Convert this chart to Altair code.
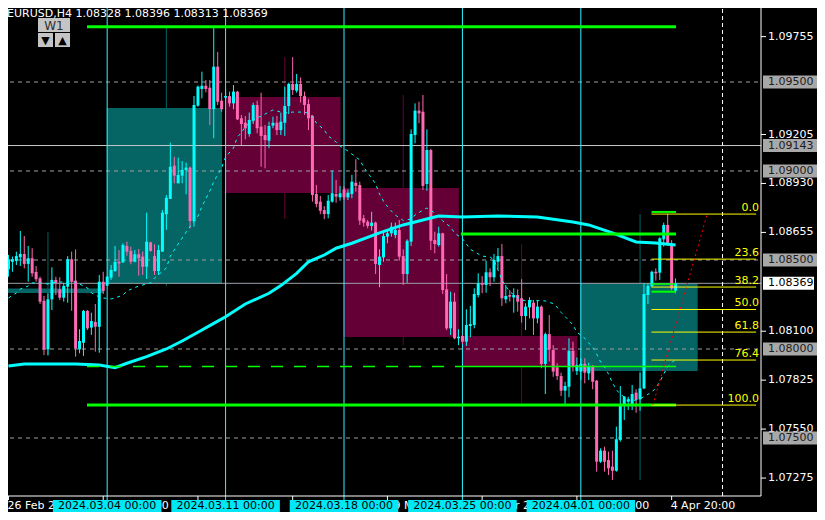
import altair as alt
import pandas as pd

PT = 1e-5              # values below are in points (0.00001)
FONT = "DejaVu Sans"
BULL, BEAR = "#00FFFF", "#FF69B4"
BOX_UP, BOX_DN = "#056464", "#650036"

# ---- H4 candles (index 0 = 26 Feb 20:00, index 169 = 5 Apr 00:00) ----
opens = [
    108448, 108490, 108494, 108515, 108534, 108478, 108510, 108433, 108397, 108271,
    107998, 108279, 108388, 108335, 108288, 108350, 108504, 108384, 107998, 108035,
    108214, 108120, 108152, 108125, 108378, 108356, 108401, 108438, 108490, 108487,
    108579, 108551, 108490, 108532, 108519, 108462, 108599, 108522, 108438, 108547,
    108757, 108843, 109030, 108931, 108974, 109006, 109019, 108719, 109367, 109461,
    109479, 109468, 109348, 109586, 109395, 109412, 109421, 109380, 109446, 109296,
    109271, 109208, 109283, 109371, 109249, 109202, 109170, 109255, 109271, 109230,
    109271, 109365, 109489, 109451, 109489, 109421, 109376, 109309, 108871, 108828,
    108781, 108758, 108828, 108871, 108852, 108897, 108852, 108871, 108934, 108921,
    108734, 108715, 108691, 108710, 108472, 108515, 108631, 108650, 108640, 108669,
    108522, 108421, 108603, 109202, 109339, 109333, 108927, 109118, 108612, 108584,
    108650, 108335, 108116, 108266, 108060, 108073, 108041, 108129, 108135, 108303,
    108369, 108360, 108431, 108403, 108490, 108522, 108279, 108303, 108290, 108303,
    108285, 108185, 108234, 108260, 108172, 108238, 107916, 108084, 107994, 107897,
    107848, 107766, 107788, 107990, 107876, 107873, 107916, 107863, 107901, 107822,
    107367, 107429, 107376, 107339, 107316, 107489, 107680, 107704, 107691, 107755,
    107717, 107779, 108303, 108354, 108434, 108429, 108616, 108697, 108594, 108328,
]
highs = [
    108528, 108519, 108547, 108663, 108635, 108579, 108566, 108466, 108406, 108298,
    108313, 108459, 108406, 108403, 108372, 108522, 108547, 108560, 108111, 108219,
    108219, 108204, 108253, 108416, 108434, 108410, 108472, 108579, 108556, 108594,
    108603, 108575, 108556, 108562, 108547, 108766, 108603, 108588, 108584, 108781,
    108865, 109159, 109080, 109075, 109056, 109047, 109025, 109421, 109480, 109558,
    109511, 109511, 109803, 109669, 109440, 109459, 109446, 109483, 109450, 109315,
    109309, 109328, 109384, 109395, 109440, 109258, 109277, 109305, 109309, 109328,
    109474, 109496, 109640, 109545, 109526, 109446, 109403, 109315, 108921, 108860,
    108803, 108865, 109002, 108949, 108916, 108916, 108897, 108978, 109066, 108940,
    108753, 108725, 108771, 108715, 108560, 108653, 108669, 108710, 108710, 108725,
    108560, 108616, 109234, 109380, 109389, 109427, 109234, 109125, 108659, 108687,
    108653, 108421, 108322, 108316, 108111, 108079, 108223, 108242, 108341, 108425,
    108410, 108496, 108453, 108534, 108567, 108590, 108360, 108331, 108341, 108335,
    108392, 108257, 108290, 108275, 108275, 108245, 108092, 108191, 108022, 107920,
    107867, 107816, 108060, 108041, 107953, 107948, 107948, 107923, 107910, 107826,
    107442, 107451, 107423, 107429, 107564, 107792, 107736, 107732, 107798, 107774,
    107867, 108369, 108369, 108440, 108453, 108628, 108710, 108760, 108612, 108396,
]
lows = [
    108406, 108434, 108472, 108466, 108453, 108378, 108406, 108378, 108253, 107966,
    107966, 108219, 108303, 108275, 108266, 108260, 108215, 107957, 107976, 107961,
    108107, 108079, 107985, 107979, 108309, 108354, 108388, 108434, 108406, 108483,
    108524, 108476, 108487, 108412, 108416, 108393, 108547, 108416, 108416, 108547,
    108669, 108843, 108931, 108931, 108931, 108869, 108678, 108687, 109361, 109408,
    109442, 109258, 109184, 109371, 109333, 109399, 109361, 109347, 109287, 109146,
    109178, 109193, 109264, 109212, 109024, 109015, 109128, 109240, 109202, 109202,
    109197, 109320, 109427, 109440, 109384, 109315, 109230, 108828, 108796, 108758,
    108729, 108734, 108822, 108822, 108833, 108837, 108837, 108847, 108884, 108697,
    108687, 108678, 108665, 108421, 108347, 108490, 108594, 108631, 108622, 108496,
    108360, 108372, 108579, 109156, 109268, 108893, 108889, 108556, 108538, 108575,
    108309, 108107, 108079, 108055, 108022, 108028, 108017, 108066, 108116, 108290,
    108313, 108316, 108354, 108378, 108448, 108242, 108257, 108266, 108204, 108210,
    108148, 108107, 108172, 108079, 108144, 107892, 107747, 107929, 107844, 107826,
    107736, 107691, 107729, 107873, 107854, 107826, 107807, 107826, 107774, 107311,
    107360, 107311, 107292, 107264, 107311, 107479, 107601, 107657, 107657, 107642,
    107653, 107774, 108253, 108347, 108384, 108388, 108575, 108579, 108330, 108313,
]
closes = [
    108504, 108504, 108522, 108534, 108478, 108510, 108425, 108392, 108266, 107998,
    108279, 108388, 108369, 108288, 108354, 108504, 108378, 108004, 108045, 108214,
    108116, 108157, 108125, 108378, 108326, 108406, 108444, 108490, 108481, 108584,
    108547, 108490, 108532, 108510, 108462, 108603, 108551, 108438, 108556, 108766,
    108850, 109024, 108974, 108978, 109006, 109019, 108719, 109371, 109474, 109479,
    109461, 109348, 109586, 109389, 109347, 109421, 109380, 109446, 109290, 109264,
    109240, 109287, 109371, 109240, 109197, 109174, 109253, 109271, 109230, 109277,
    109365, 109489, 109455, 109489, 109421, 109371, 109296, 108865, 108815, 108777,
    108758, 108833, 108875, 108856, 108875, 108852, 108878, 108940, 108916, 108721,
    108710, 108691, 108710, 108478, 108519, 108635, 108650, 108687, 108669, 108519,
    108421, 108608, 109208, 109339, 109324, 108916, 109118, 108608, 108590, 108650,
    108331, 108116, 108266, 108060, 108069, 108041, 108135, 108140, 108309, 108369,
    108360, 108431, 108403, 108500, 108522, 108285, 108298, 108294, 108303, 108266,
    108185, 108238, 108275, 108172, 108238, 107916, 108084, 107998, 107873, 107848,
    107766, 107792, 107990, 107905, 107910, 107916, 107867, 107901, 107816, 107367,
    107429, 107367, 107330, 107316, 107493, 107680, 107732, 107717, 107747, 107714,
    107779, 108309, 108354, 108434, 108425, 108622, 108697, 108594, 108340, 108369,
]

# ---- moving averages: (candle index, points) ----
ma_long = [(0, 107905), (4, 107916), (17, 107916), (23, 107910), (27, 107895), (30, 107920),
           (35, 107957), (40, 108000), (44, 108045), (48, 108094), (52, 108144), (55, 108181),
           (60, 108253), (66, 108313), (69, 108356), (73, 108425), (76, 108490), (80, 108528),
           (83, 108566), (87, 108594), (94, 108652), (100, 108697), (107, 108736), (109, 108747),
           (115, 108742), (124, 108747), (134, 108742), (143, 108714), (147, 108697),
           (153, 108652), (159, 108601), (164, 108596), (169, 108584)]
ma_short = [(0, 108287), (2, 108315), (3, 108337), (5, 108354), (6, 108371), (8, 108371),
            (10, 108365), (12, 108376), (14, 108376), (16, 108382), (18, 108365), (20, 108343),
            (21, 108315), (23, 108292), (24, 108287), (26, 108281), (27, 108287), (29, 108303),
            (30, 108326), (33, 108354), (36, 108371), (37, 108399), (40, 108455), (41, 108522),
            (43, 108590), (45, 108657), (48, 108747), (49, 108800), (51, 108888), (52, 108940),
            (54, 109017), (55, 109079), (57, 109129), (58, 109191), (59, 109215), (60, 109250),
            (62, 109283), (63, 109298), (65, 109320), (67, 109343), (68, 109337), (70, 109326),
            (72, 109331), (74, 109331), (76, 109326), (77, 109305), (78, 109270), (80, 109230),
            (81, 109197), (83, 109163), (84, 109140), (85, 109127), (86, 109112), (87, 109095),
            (89, 109062), (90, 109022), (91, 108989), (92, 108961), (93, 108927), (94, 108870),
            (95, 108830), (96, 108800), (97, 108775), (98, 108752), (99, 108738), (100, 108722),
            (102, 108730), (103, 108752), (105, 108781), (106, 108792), (108, 108764),
            (109, 108740), (110, 108720), (112, 108685), (113, 108652), (115, 108620),
            (116, 108590), (117, 108560), (119, 108534), (120, 108522), (122, 108517),
            (123, 108500), (124, 108445), (125, 108388), (126, 108352), (127, 108322),
            (128, 108305), (130, 108275), (132, 108270), (134, 108272), (136, 108270),
            (138, 108255), (139, 108235), (140, 108205), (142, 108160), (143, 108135),
            (144, 108095), (146, 108060), (147, 108034), (148, 108010), (149, 107972),
            (150, 107927), (151, 107899), (152, 107860), (153, 107810), (154, 107772),
            (155, 107745), (157, 107717), (158, 107708), (159, 107714), (160, 107720),
            (162, 107745), (163, 107758), (164, 107782), (165, 107815), (166, 107860),
            (167, 107900), (168, 107921), (169, 107944)]

# ---- weekly (W1) candles drawn as boxes ----
week_start = [-5, 25, 55, 85, 115, 145]
week_end = [24.1, 54.1, 84.1, 114.1, 144.1, 174.6]
week_open = [108315, 108365, 109416, 108905, 108073, 107876]
week_close = [108340, 109354, 108876, 108067, 107905, 108369]
week_high = [108657, 109803, 109640, 109427, 108590, 108758]
week_low = [107961, 108354, 108730, 108022, 107697, 107264]

sep_idx = [25, 55, 85, 115, 145]
sep_labels = ["2024.03.04 00:00", "2024.03.11 00:00", "2024.03.18 00:00",
              "2024.03.25 00:00", "2024.04.01 00:00"]
tick_idx = [0, 24, 48, 72, 96, 120, 144, 168]
tick_labels = ["26 Feb 2024", "1 Mar 20:00", "7 Mar 20:00", "13 Mar 20:00",
               "19 Mar 20:00", "25 Mar 20:00", "29 Mar 20:00", "4 Apr 20:00"]
shift_idx = 180.9

grid_pts = [109500, 109000, 108500, 108000, 107500]
axis_pts = [109755, 109205, 108930, 108655, 108100, 107825, 107550, 107275]
boxed_pts = [109500, 109143, 109000, 108500, 108000, 107500]
hline_pts = [109143]

fib_pts = [108758, 108505, 108348, 108222, 108095, 107938, 107685]
fib_labels = ["0.0", "23.6", "38.2", "50.0", "61.8", "76.4", "100.0"]
fib_from, fib_to = 162.9, 189.4

green_thick = [(19.9, 169.1, 109810), (19.9, 169.1, 107685), (114.6, 169.1, 108646)]
green_mid = [(162.9, 169.1, 108770), (162.9, 169.1, 108322)]
green_thin = [(114.9, 169.1, 107901), (162.9, 169.1, 108365)]
green_dash = [(19.9, 114.9, 107901)]

red_idx = [163.25, 177.0]
red_pts = [107685, 108758]

# ------------------------------------------------------------------
n = len(opens)
assert n == len(highs) == len(lows) == len(closes)

xs = alt.Scale(domain=[-0.375, 189.375], zero=False, nice=False)
ys = alt.Scale(domain=[1.0717415, 1.0994944], zero=False, nice=False)


def X(f):
    return alt.X(f"{f}:Q", scale=xs, axis=None)


def Y(f):
    return alt.Y(f"{f}:Q", scale=ys, axis=None)


def one():
    return pd.DataFrame({"k": [0]})


cd = pd.DataFrame({"i": list(range(n)),
                   "o": [v * PT for v in opens], "h": [v * PT for v in highs],
                   "l": [v * PT for v in lows], "c": [v * PT for v in closes]})
cd["up"] = cd["c"] >= cd["o"]
cu, cdn = cd[cd["up"]], cd[~cd["up"]]

wk = pd.DataFrame({"s": week_start, "e": week_end, "o": [v * PT for v in week_open],
                   "c": [v * PT for v in week_close], "h": [v * PT for v in week_high],
                   "l": [v * PT for v in week_low]})
wk["x0"] = wk["s"] - 0.1
wk["xc"] = wk["s"] + 15
wk["up"] = wk["c"] >= wk["o"]
wu, wd = wk[wk["up"]], wk[~wk["up"]]

layers = []
for df, col in ((wu, BOX_UP), (wd, BOX_DN)):
    layers.append(alt.Chart(df).mark_rect(color=col, clip=True).encode(
        x=X("x0"), x2="e", y=Y("o"), y2="c"))
    layers.append(alt.Chart(df).mark_rule(color=col, strokeWidth=1, clip=True).encode(
        x=X("xc"), y=Y("l"), y2="h"))

grid = pd.DataFrame({"p": [v * PT for v in grid_pts]})
layers.append(alt.Chart(grid).mark_rule(color="#A0A0A0", strokeDash=[4, 4], strokeWidth=1).encode(
    y=Y("p"), x=alt.value(0), x2=alt.value(759)))
hl = pd.DataFrame({"p": [v * PT for v in hline_pts]})
layers.append(alt.Chart(hl).mark_rule(color="#C8C8C8", strokeWidth=1).encode(
    y=Y("p"), x=alt.value(0), x2=alt.value(759)))
cur = pd.DataFrame({"p": [closes[-1] * PT]})
layers.append(alt.Chart(cur).mark_rule(color="#9AA0A8", strokeWidth=1).encode(
    y=Y("p"), x=alt.value(0), x2=alt.value(759)))

seps = pd.DataFrame({"i": sep_idx, "t": sep_labels})
layers.append(alt.Chart(seps).mark_rule(color="#30F4FF", strokeWidth=1).encode(
    x=X("i"), y=alt.value(0), y2=alt.value(498)))
layers.append(alt.Chart(pd.DataFrame({"i": [shift_idx]})).mark_rule(
    color="#FFFFFF", strokeDash=[4, 3], strokeWidth=1).encode(
    x=X("i"), y=alt.value(0), y2=alt.value(494)))

for df, col in ((cu, BULL), (cdn, BEAR)):
    layers.append(alt.Chart(df).mark_rule(color=col, strokeWidth=1).encode(
        x=X("i"), y=Y("l"), y2="h"))
for df, col in ((cu, BULL), (cdn, BEAR)):
    layers.append(alt.Chart(df).mark_bar(color=col, size=3).encode(
        x=X("i"), y=Y("o"), y2="c"))

mal = pd.DataFrame({"i": [a for a, _ in ma_long], "p": [b * PT for _, b in ma_long]})
mas = pd.DataFrame({"i": [a for a, _ in ma_short], "p": [b * PT for _, b in ma_short]})
layers.append(alt.Chart(mas).mark_line(color="#00FFFF", strokeWidth=1, strokeDash=[3, 4]).encode(
    x=X("i"), y=Y("p")))
layers.append(alt.Chart(mal).mark_line(color="#00FFFF", strokeWidth=3).encode(
    x=X("i"), y=Y("p")))


def seg_df(rows):
    return pd.DataFrame({"x0": [a for a, _, _ in rows], "x1": [b for _, b, _ in rows],
                         "p": [c * PT for _, _, c in rows]})


layers.append(alt.Chart(seg_df(green_dash)).mark_rule(
    color="#00FF00", strokeWidth=1.5, strokeDash=[12, 11]).encode(x=X("x0"), x2="x1", y=Y("p")))
layers.append(alt.Chart(seg_df(green_thin)).mark_rule(color="#00FF00", strokeWidth=1.5).encode(
    x=X("x0"), x2="x1", y=Y("p")))
layers.append(alt.Chart(seg_df(green_mid)).mark_rule(color="#00FF00", strokeWidth=2).encode(
    x=X("x0"), x2="x1", y=Y("p")))
layers.append(alt.Chart(seg_df(green_thick)).mark_rule(color="#00FF00", strokeWidth=3).encode(
    x=X("x0"), x2="x1", y=Y("p")))

fib = pd.DataFrame({"p": [v * PT for v in fib_pts], "t": fib_labels,
                    "x0": [fib_from] * len(fib_pts), "x1": [fib_to] * len(fib_pts)})
layers.append(alt.Chart(fib).mark_rule(color="#FFFF00", strokeWidth=1).encode(
    x=X("x0"), x2="x1", y=Y("p")))
layers.append(alt.Chart(fib).mark_text(color="#FFFF00", align="right", baseline="bottom",
                                       font=FONT, fontSize=11, dy=-1).encode(
    x=alt.value(757), y=Y("p"), text="t:N"))

red = pd.DataFrame({"i": red_idx, "p": [v * PT for v in red_pts]})
layers.append(alt.Chart(red).mark_line(color="#FF0000", strokeWidth=1, strokeDash=[2, 3]).encode(
    x=X("i"), y=Y("p")))

# frame
layers.append(alt.Chart(one()).mark_rule(color="#FFFFFF", strokeWidth=1).encode(
    x=alt.value(759), y=alt.value(0), y2=alt.value(494)))
layers.append(alt.Chart(one()).mark_rule(color="#FFFFFF", strokeWidth=1).encode(
    x=alt.value(0), x2=alt.value(759), y=alt.value(494)))

# time axis
ticks = pd.DataFrame({"i": tick_idx, "t": tick_labels})
layers.append(alt.Chart(ticks).mark_rule(color="#FFFFFF", strokeWidth=1).encode(
    x=X("i"), y=alt.value(494), y2=alt.value(498)))
layers.append(alt.Chart(ticks).mark_text(color="#FFFFFF", align="left", baseline="alphabetic",
                                         font=FONT, fontSize=11, dx=-1).encode(
    x=X("i"), y=alt.value(507), text="t:N"))
seps2 = seps.assign(x0=seps["i"] - 13.75, x1=seps["i"] + 13.75)
layers.append(alt.Chart(seps2).mark_rect(color="#00E8F4").encode(
    x=X("x0"), x2="x1", y=alt.value(498), y2=alt.value(510)))
layers.append(alt.Chart(seps2).mark_text(color="#000000", align="center", baseline="alphabetic",
                                         font=FONT, fontSize=11).encode(
    x=X("i"), y=alt.value(507), text="t:N"))

# price axis
ax = pd.DataFrame({"p": [v * PT for v in axis_pts]})
ax["t"] = [f"{v * PT:.5f}" for v in axis_pts]
layers.append(alt.Chart(ax).mark_rule(color="#FFFFFF", strokeWidth=1).encode(
    x=alt.value(759), x2=alt.value(764), y=Y("p")))
layers.append(alt.Chart(ax).mark_text(color="#FFFFFF", align="left", baseline="middle",
                                      font=FONT, fontSize=11).encode(
    x=alt.value(766), y=Y("p"), text="t:N"))
bx = pd.DataFrame({"p": [v * PT for v in boxed_pts]})
bx["t"] = [f"{v * PT:.5f}" for v in boxed_pts]
layers.append(alt.Chart(bx).mark_rule(color="#A8A8A8", strokeWidth=13).encode(
    x=alt.value(761), x2=alt.value(817), y=Y("p")))
layers.append(alt.Chart(bx).mark_text(color="#202020", align="left", baseline="middle",
                                      font=FONT, fontSize=11).encode(
    x=alt.value(766), y=Y("p"), text="t:N"))
cur["t"] = [f"{closes[-1] * PT:.5f}"]
layers.append(alt.Chart(cur).mark_rule(color="#FFFFFF", strokeWidth=13).encode(
    x=alt.value(761), x2=alt.value(812), y=Y("p")))
layers.append(alt.Chart(cur).mark_text(color="#000000", align="left", baseline="middle",
                                       font=FONT, fontSize=11).encode(
    x=alt.value(766), y=Y("p"), text="t:N"))

# header and W1 switch
header = "EURUSD,H4  " + " ".join(f"{v * PT:.5f}" for v in
                                  (opens[-1], highs[-1], lows[-1], closes[-1]))
layers.append(alt.Chart(pd.DataFrame({"t": [header]})).mark_text(
    color="#FFFFFF", align="left", baseline="middle", font=FONT, fontSize=11).encode(
    x=alt.value(5), y=alt.value(11.5), text="t:N"))
for x0, x1, y0, y1 in ((36, 68, 16, 30), (36, 51, 31, 45), (53, 68, 31, 45)):
    layers.append(alt.Chart(one()).mark_rect(color="#C4C4C4").encode(
        x=alt.value(x0), x2=alt.value(x1), y=alt.value(y0), y2=alt.value(y1)))
for t, xv, yv, col, fs in (("W1", 52, 23.5, "#303030", 12), ("▼", 43.5, 38.5, "#000000", 11),
                           ("▲", 60.5, 38.5, "#000000", 11)):
    layers.append(alt.Chart(pd.DataFrame({"t": [t]})).mark_text(
        color=col, align="center", baseline="middle", font=FONT, fontSize=fs).encode(
        x=alt.value(xv), y=alt.value(yv), text="t:N"))

chart = alt.layer(*layers).properties(
    width=759, height=494,
    padding={"left": -6, "top": -6, "right": 56, "bottom": 16},
    autosize=alt.AutoSizeParams(type="none"),
).configure(background="#000000").configure_view(stroke=None)

chart.save("out.html", embed_options={"renderer": "svg", "actions": False})
